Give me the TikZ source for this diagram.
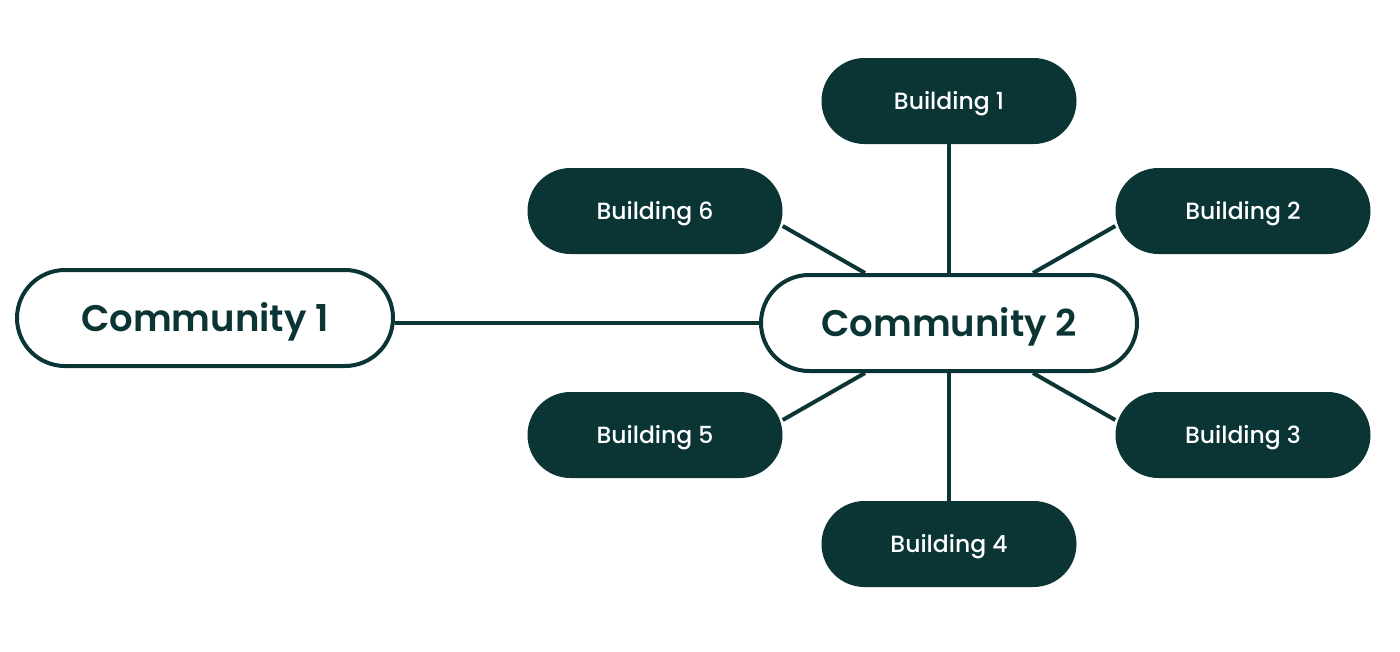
\documentclass[tikz,border=0pt]{standalone}
\usepackage{fontspec}
\setmainfont{Poppins}[BoldFont={Poppins SemiBold}]
\newfontfamily\medfont{Poppins Medium}
\usetikzlibrary{calc,shapes.misc}
\definecolor{teal}{HTML}{0B3535}
\begin{document}
\begin{tikzpicture}[x=1pt,y=-1pt,
  bld/.style={rounded rectangle, fill=teal, text=white, minimum width=255pt, minimum height=86pt, inner sep=0pt, text height=17pt, text depth=0pt, font=\fontsize{23.5}{26}\medfont},
  com/.style={rounded rectangle, draw=teal, line width=4pt, fill=white, text=teal, minimum width=376pt, minimum height=96pt, inner sep=0pt, text height=26pt, text depth=0pt, font=\fontsize{37}{42}\selectfont\bfseries},
  link/.style={draw=teal, line width=4pt}]
\useasboundingbox (0,0) rectangle (1400,651);
\node[bld] (b1) at (949,101) {Building 1};
\node[bld] (b2) at (1243,211) {Building 2};
\node[bld] (b3) at (1243,435) {Building 3};
\node[bld] (b4) at (949,544) {Building 4};
\node[bld] (b5) at (655,435) {Building 5};
\node[bld] (b6) at (655,211) {Building 6};
\node[com] (c1) at (205,318) {Community 1};
\node[com] (c2) at (949,323) {Community 2};
\path[link] (b1.south) -- (c2.north);
\path[link] (c2.south) -- (b4.north);
\path[link] ([yshift=-15pt]b6.east) -- ([xshift=-84pt]c2.north);
\path[link] ([yshift=-15pt]b2.west) -- ([xshift=84pt]c2.north);
\path[link] ([yshift=15pt]b5.east) -- ([xshift=-84pt]c2.south);
\path[link] ([yshift=15pt]b3.west) -- ([xshift=84pt]c2.south);
\path[link] (c1.east |- c2.west) -- (c2.west);
\end{tikzpicture}
\end{document}
